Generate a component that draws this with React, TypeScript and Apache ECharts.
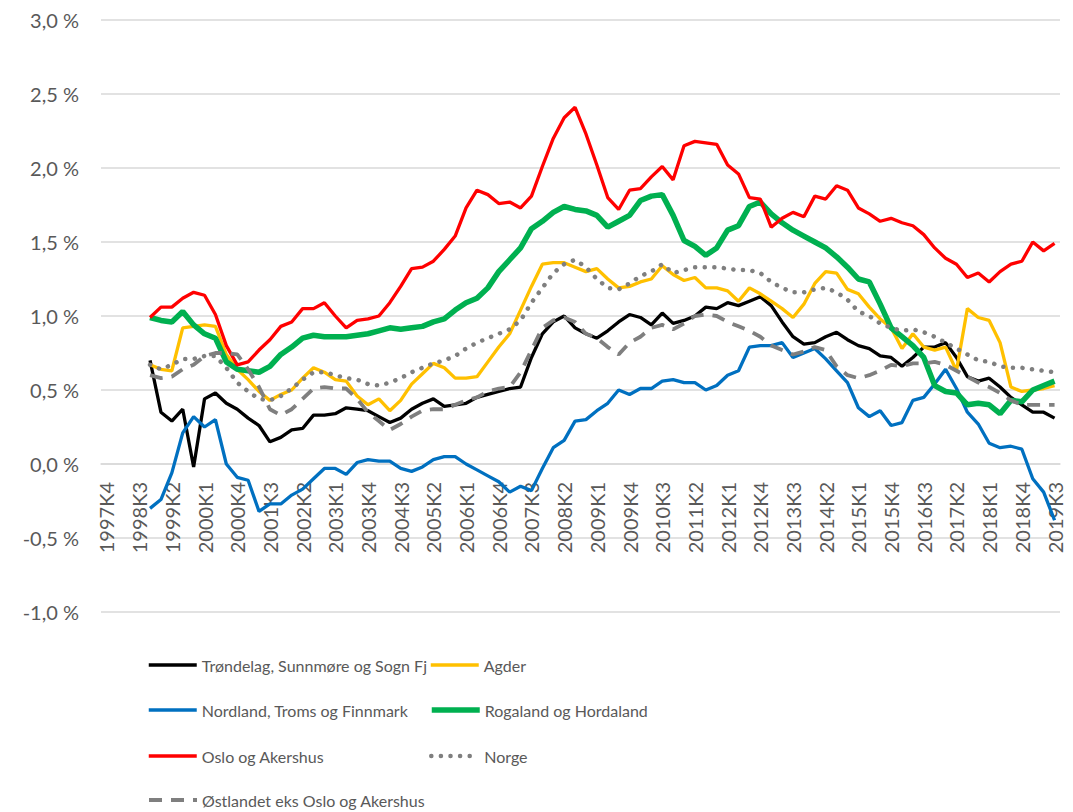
import React, { useEffect, useRef } from "react";
import * as echarts from "echarts";

const categories: string[] = [
  "1997K4",
  "1998K1", "1998K2", "1998K3", "1998K4",
  "1999K1", "1999K2", "1999K3", "1999K4",
  "2000K1", "2000K2", "2000K3", "2000K4",
  "2001K1", "2001K2", "2001K3", "2001K4",
  "2002K1", "2002K2", "2002K3", "2002K4",
  "2003K1", "2003K2", "2003K3", "2003K4",
  "2004K1", "2004K2", "2004K3", "2004K4",
  "2005K1", "2005K2", "2005K3", "2005K4",
  "2006K1", "2006K2", "2006K3", "2006K4",
  "2007K1", "2007K2", "2007K3", "2007K4",
  "2008K1", "2008K2", "2008K3", "2008K4",
  "2009K1", "2009K2", "2009K3", "2009K4",
  "2010K1", "2010K2", "2010K3", "2010K4",
  "2011K1", "2011K2", "2011K3", "2011K4",
  "2012K1", "2012K2", "2012K3", "2012K4",
  "2013K1", "2013K2", "2013K3", "2013K4",
  "2014K1", "2014K2", "2014K3", "2014K4",
  "2015K1", "2015K2", "2015K3", "2015K4",
  "2016K1", "2016K2", "2016K3", "2016K4",
  "2017K1", "2017K2", "2017K3", "2017K4",
  "2018K1", "2018K2", "2018K3", "2018K4",
  "2019K1", "2019K2", "2019K3",
];

// Quarters before the first observation (1997K4 - 1998K3) have no data
const leadingEmpty: null[] = [null, null, null, null];

// Values from 1998K4 to 2019K3 (per cent)
const trondelag: number[] = [
  0.70, 0.35, 0.29, 0.37, -0.02, 0.44, 0.48, 0.41, 0.37, 0.31,
  0.26, 0.15, 0.18, 0.23, 0.24, 0.33, 0.33, 0.34, 0.38, 0.37,
  0.36, 0.32, 0.28, 0.31, 0.37, 0.41, 0.44, 0.39, 0.40, 0.41,
  0.45, 0.47, 0.49, 0.51, 0.52, 0.72, 0.88, 0.96, 1.00, 0.92,
  0.88, 0.85, 0.90, 0.96, 1.01, 0.99, 0.94, 1.02, 0.95, 0.97,
  1.00, 1.06, 1.05, 1.09, 1.07, 1.10, 1.13, 1.07, 0.96, 0.86,
  0.81, 0.82, 0.86, 0.89, 0.84, 0.80, 0.78, 0.73, 0.72, 0.66,
  0.72, 0.79, 0.79, 0.82, 0.72, 0.59, 0.56, 0.58, 0.52, 0.45,
  0.40, 0.35, 0.35, 0.31,
];

const agder: number[] = [
  0.67, 0.64, 0.63, 0.92, 0.93, 0.94, 0.93, 0.74, 0.64, 0.57,
  0.49, 0.43, 0.47, 0.50, 0.58, 0.65, 0.62, 0.57, 0.56, 0.46,
  0.40, 0.44, 0.36, 0.43, 0.54, 0.61, 0.68, 0.65, 0.58, 0.58,
  0.59, 0.69, 0.79, 0.88, 1.04, 1.20, 1.35, 1.36, 1.36, 1.33,
  1.30, 1.32, 1.25, 1.19, 1.20, 1.23, 1.25, 1.34, 1.28, 1.24,
  1.26, 1.19, 1.19, 1.17, 1.10, 1.19, 1.15, 1.10, 1.05, 0.99,
  1.08, 1.22, 1.30, 1.29, 1.18, 1.15, 1.06, 0.98, 0.92, 0.78,
  0.88, 0.79, 0.77, 0.79, 0.63, 1.05, 0.99, 0.97, 0.82, 0.52,
  0.49, 0.50, 0.51, 0.53,
];

const nordland: number[] = [
  -0.30, -0.24, -0.06, 0.21, 0.32, 0.25, 0.30, 0.00, -0.09, -0.11,
  -0.32, -0.27, -0.27, -0.21, -0.17, -0.10, -0.03, -0.03, -0.07, 0.01,
  0.03, 0.02, 0.02, -0.03, -0.05, -0.02, 0.03, 0.05, 0.05, 0.00,
  -0.04, -0.08, -0.12, -0.19, -0.15, -0.18, -0.03, 0.11, 0.16, 0.29,
  0.30, 0.36, 0.41, 0.50, 0.47, 0.51, 0.51, 0.56, 0.57, 0.55,
  0.55, 0.50, 0.53, 0.60, 0.63, 0.79, 0.80, 0.80, 0.82, 0.72,
  0.75, 0.78, 0.71, 0.63, 0.55, 0.38, 0.32, 0.36, 0.26, 0.28,
  0.43, 0.45, 0.54, 0.64, 0.51, 0.35, 0.27, 0.14, 0.11, 0.12,
  0.10, -0.10, -0.19, -0.38,
];

const rogaland: number[] = [
  0.99, 0.97, 0.96, 1.03, 0.94, 0.88, 0.85, 0.69, 0.64, 0.63,
  0.62, 0.66, 0.74, 0.79, 0.85, 0.87, 0.86, 0.86, 0.86, 0.87,
  0.88, 0.90, 0.92, 0.91, 0.92, 0.93, 0.96, 0.98, 1.04, 1.09,
  1.12, 1.19, 1.30, 1.38, 1.46, 1.59, 1.64, 1.70, 1.74, 1.72,
  1.71, 1.68, 1.60, 1.64, 1.68, 1.78, 1.81, 1.82, 1.68, 1.51,
  1.47, 1.41, 1.46, 1.58, 1.61, 1.74, 1.77, 1.69, 1.63, 1.58,
  1.54, 1.50, 1.46, 1.40, 1.33, 1.25, 1.23, 1.08, 0.92, 0.86,
  0.80, 0.72, 0.53, 0.49, 0.48, 0.40, 0.41, 0.40, 0.34, 0.43,
  0.42, 0.50, 0.53, 0.56,
];

const oslo: number[] = [
  0.99, 1.06, 1.06, 1.12, 1.16, 1.14, 1.01, 0.80, 0.67, 0.69,
  0.77, 0.84, 0.93, 0.96, 1.05, 1.05, 1.09, 1.00, 0.92, 0.97,
  0.98, 1.00, 1.09, 1.20, 1.32, 1.33, 1.37, 1.45, 1.54, 1.73,
  1.85, 1.82, 1.76, 1.77, 1.73, 1.81, 2.01, 2.20, 2.34, 2.41,
  2.23, 2.02, 1.80, 1.72, 1.85, 1.86, 1.94, 2.01, 1.92, 2.15,
  2.18, 2.17, 2.16, 2.02, 1.96, 1.80, 1.79, 1.60, 1.66, 1.70,
  1.67, 1.81, 1.79, 1.88, 1.85, 1.73, 1.69, 1.64, 1.66, 1.63,
  1.61, 1.55, 1.46, 1.39, 1.35, 1.26, 1.29, 1.23, 1.30, 1.35,
  1.37, 1.50, 1.44, 1.49,
];

const norge: number[] = [
  0.67, 0.64, 0.67, 0.71, 0.71, 0.73, 0.73, 0.65, 0.55, 0.49,
  0.44, 0.43, 0.46, 0.51, 0.57, 0.62, 0.62, 0.60, 0.58, 0.57,
  0.54, 0.53, 0.55, 0.58, 0.62, 0.65, 0.68, 0.70, 0.73, 0.78,
  0.82, 0.85, 0.88, 0.91, 0.97, 1.09, 1.19, 1.29, 1.35, 1.38,
  1.33, 1.25, 1.19, 1.18, 1.22, 1.27, 1.30, 1.35, 1.29, 1.31,
  1.33, 1.33, 1.33, 1.32, 1.31, 1.31, 1.29, 1.23, 1.19, 1.16,
  1.16, 1.18, 1.19, 1.16, 1.11, 1.03, 1.00, 0.95, 0.92, 0.90,
  0.91, 0.89, 0.86, 0.82, 0.78, 0.74, 0.70, 0.69, 0.66, 0.65,
  0.65, 0.64, 0.63, 0.62,
];

const ostlandet: number[] = [
  0.60, 0.58, 0.59, 0.64, 0.67, 0.73, 0.75, 0.75, 0.74, 0.64,
  0.52, 0.37, 0.33, 0.37, 0.44, 0.51, 0.52, 0.51, 0.51, 0.44,
  0.35, 0.29, 0.23, 0.27, 0.32, 0.36, 0.37, 0.37, 0.40, 0.43,
  0.45, 0.49, 0.51, 0.52, 0.62, 0.77, 0.92, 0.97, 0.99, 0.96,
  0.88, 0.85, 0.79, 0.74, 0.82, 0.86, 0.92, 0.94, 0.91, 0.95,
  1.00, 1.01, 1.00, 0.96, 0.93, 0.90, 0.86, 0.80, 0.77, 0.74,
  0.76, 0.79, 0.77, 0.66, 0.60, 0.58, 0.60, 0.63, 0.67, 0.66,
  0.68, 0.68, 0.69, 0.67, 0.63, 0.59, 0.55, 0.52, 0.48, 0.43,
  0.40, 0.40, 0.40, 0.40,
];

const seriesNames = {
  trondelag: "Trøndelag, Sunnmøre og Sogn Fj",
  agder: "Agder",
  nordland: "Nordland, Troms og Finnmark",
  rogaland: "Rogaland og Hordaland",
  oslo: "Oslo og Akershus",
  norge: "Norge",
  ostlandet: "Østlandet eks Oslo og Akershus",
};

const FONT = "Lato, 'Open Sans', sans-serif";
const TEXT_COLOR = "#595959";
const GRID_COLOR = "#d9d9d9";
const GRAY = "#7f7f7f";

const DOTTED = { type: [0.1, 9.5], cap: "round" };
const DASHED = { type: [13, 9], cap: "butt" };

function lineSeries(name: string, values: number[], color: string, width: number, extra: any = {}) {
  return {
    name,
    type: "line",
    data: [...leadingEmpty, ...values],
    symbol: "none",
    showSymbol: false,
    smooth: false,
    connectNulls: false,
    itemStyle: { color },
    lineStyle: { color, width, ...extra },
    emphasis: { disabled: true },
  };
}

function legendItem(name: string, left: number, top: number, width: number, extra: any = {}) {
  return {
    data: [name],
    left,
    top,
    padding: 0,
    itemWidth: 48,
    itemHeight: 14,
    selectedMode: false,
    itemStyle: { opacity: 0 },
    lineStyle: { width, ...extra },
    textStyle: { fontFamily: FONT, fontSize: 16, color: TEXT_COLOR, lineHeight: 20 },
  };
}

export default function App() {
  const ref = useRef<HTMLDivElement>(null);

  useEffect(() => {
    if (!ref.current) return;
    const chart = echarts.init(ref.current, null, { renderer: "svg" });
    chart.setOption({
      animation: false,
      backgroundColor: "#ffffff",
      grid: { left: 101, right: 13, top: 20, bottom: 200, containLabel: false },
      legend: [
        legendItem(seriesNames.trondelag, 147, 655, 3.5),
        legendItem(seriesNames.agder, 429, 655, 3.5),
        legendItem(seriesNames.nordland, 147, 700, 3.5),
        legendItem(seriesNames.rogaland, 429, 700, 5.5),
        legendItem(seriesNames.oslo, 147, 746, 3.5),
        legendItem(seriesNames.norge, 429, 746, 4.5, DOTTED),
        legendItem(seriesNames.ostlandet, 147, 790, 4, DASHED),
      ],
      xAxis: {
        type: "category",
        data: categories,
        boundaryGap: true,
        position: "bottom",
        offset: -148,
        axisLine: { show: true, onZero: false, lineStyle: { color: GRID_COLOR, width: 1.5 } },
        axisTick: { show: false },
        splitLine: { show: false },
        axisLabel: {
          interval: 2,
          rotate: 90,
          margin: 18,
          fontFamily: FONT,
          fontSize: 20,
          color: TEXT_COLOR,
        },
      },
      yAxis: {
        type: "value",
        min: -1,
        max: 3,
        interval: 0.5,
        axisLine: { show: false },
        axisTick: { show: false },
        splitLine: { show: true, lineStyle: { color: GRID_COLOR, width: 1.5 } },
        axisLabel: {
          margin: 22,
          fontFamily: FONT,
          fontSize: 20,
          color: TEXT_COLOR,
          formatter: (v: number) => v.toFixed(1).replace(".", ",") + " %",
        },
      },
      series: [
        lineSeries(seriesNames.trondelag, trondelag, "#000000", 3.3),
        lineSeries(seriesNames.agder, agder, "#FFC000", 3.3),
        lineSeries(seriesNames.nordland, nordland, "#0070C0", 3.3),
        lineSeries(seriesNames.rogaland, rogaland, "#00B050", 5.5),
        lineSeries(seriesNames.oslo, oslo, "#FF0000", 3.3),
        lineSeries(seriesNames.norge, norge, GRAY, 4.5, DOTTED),
        lineSeries(seriesNames.ostlandet, ostlandet, GRAY, 3.8, DASHED),
      ],
    });
    return () => chart.dispose();
  }, []);

  return (
    <div
      ref={ref}
      style={{ position: "fixed", left: 0, top: 0, width: 1073, height: 812, background: "#fff" }}
    />
  );
}
